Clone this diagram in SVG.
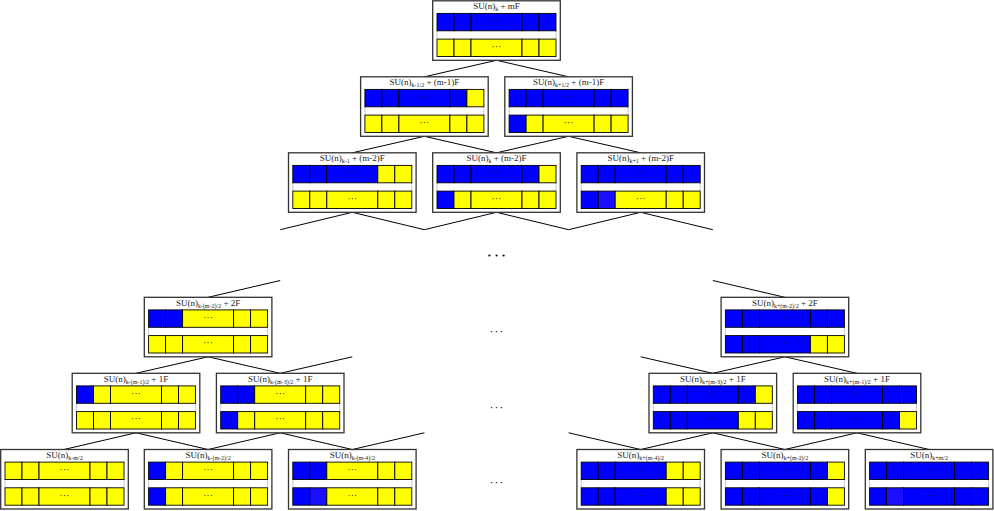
<svg xmlns="http://www.w3.org/2000/svg" width="994" height="511" viewBox="0 0 994 511">
<style>
.frame{fill:#fff;stroke:#333;stroke-width:1.3}
.b{fill:#0000ff;stroke:#000;stroke-width:0.9}
.y{fill:#ffff00;stroke:#000;stroke-width:0.9}
.b2{fill:#1a10ff;stroke:#000;stroke-width:0.9}
.gap{stroke:#777;stroke-width:0.8;stroke-dasharray:1 1}
.t{font-family:"Liberation Serif",serif;font-size:9px;text-anchor:middle;fill:#222}
.s{font-size:6px}
.cd{font-family:"DejaVu Sans",sans-serif;font-size:8px;text-anchor:middle;letter-spacing:0.8px;fill:#111}
.el{font-family:"DejaVu Sans",sans-serif;font-size:11px;text-anchor:middle;letter-spacing:1.5px;fill:#111}
.big{font-family:"DejaVu Sans",sans-serif;font-size:7px;text-anchor:middle;letter-spacing:3px;fill:#000}
.conn line,.conn polyline{stroke:#000;stroke-width:1;fill:none}
</style>
<defs>
<g id="shell">
<rect class="frame" x="0" y="0" width="127.6" height="59.5"/>
<line class="gap" x1="4.3" y1="30" x2="4.3" y2="38.3"/>
<line class="gap" x1="123.3" y1="30" x2="123.3" y2="38.3"/>
</g>
</defs>

<g id="connectors" class="conn">
<line x1="496.5" y1="60.3" x2="424.4" y2="76.8"/>
<line x1="496.5" y1="60.3" x2="568.6" y2="76.8"/>
<line x1="424.4" y1="136.3" x2="352.3" y2="152.8"/>
<line x1="424.4" y1="136.3" x2="496.5" y2="152.8"/>
<line x1="568.6" y1="136.3" x2="496.5" y2="152.8"/>
<line x1="568.6" y1="136.3" x2="640.7" y2="152.8"/>
<polyline points="280.2,229.7 352.3,212.3 424.4,229.7 496.5,212.3 568.6,229.7 640.7,212.3 712.8,229.7"/>
<line x1="208.1" y1="297.3" x2="280.2" y2="280.5"/>
<line x1="784.9" y1="297.3" x2="712.8" y2="280.5"/>
<line x1="208.1" y1="356.8" x2="136" y2="373.3"/>
<line x1="208.1" y1="356.8" x2="280.2" y2="373.3"/>
<line x1="784.9" y1="356.8" x2="712.8" y2="373.3"/>
<line x1="784.9" y1="356.8" x2="857" y2="373.3"/>
<line x1="280.2" y1="373.3" x2="352.3" y2="356.8"/>
<line x1="712.8" y1="373.3" x2="640.7" y2="356.8"/>
<line x1="136" y1="432.8" x2="63.9" y2="449.5"/>
<line x1="136" y1="432.8" x2="208.1" y2="449.5"/>
<line x1="280.2" y1="432.8" x2="208.1" y2="449.5"/>
<line x1="280.2" y1="432.8" x2="352.3" y2="449.5"/>
<line x1="712.8" y1="432.8" x2="640.7" y2="449.5"/>
<line x1="712.8" y1="432.8" x2="784.9" y2="449.5"/>
<line x1="857" y1="432.8" x2="784.9" y2="449.5"/>
<line x1="857" y1="432.8" x2="929.1" y2="449.5"/>
<line x1="352.3" y1="449.5" x2="424.4" y2="432.8"/>
<line x1="640.7" y1="449.5" x2="568.6" y2="432.8"/>
</g>

<g id="ellipses">
<text class="big" x="498" y="258.4">•••</text>
<text class="el" x="497.3" y="334.5">···</text>
<text class="el" x="497.3" y="410.5">···</text>
<text class="el" x="497.3" y="486">···</text>
</g>

<g id="n1" transform="translate(432.7,0.8)">
<use href="#shell"/>
<text class="t" x="63.8" y="8.6">SU(n)<tspan class="s" dy="2">k</tspan><tspan dy="-2"> + mF</tspan></text>
<rect class="b" x="4.3" y="12.6" width="17" height="17.4"/><rect class="b" x="21.3" y="12.6" width="17" height="17.4"/><rect class="b" x="38.3" y="12.6" width="51" height="17.4"/><rect class="b" x="89.3" y="12.6" width="17" height="17.4"/><rect class="b" x="106.3" y="12.6" width="17" height="17.4"/>
<rect class="y" x="4.3" y="38.3" width="17" height="17.4"/><rect class="y" x="21.3" y="38.3" width="17" height="17.4"/><rect class="y" x="38.3" y="38.3" width="51" height="17.4"/><rect class="y" x="89.3" y="38.3" width="17" height="17.4"/><rect class="y" x="106.3" y="38.3" width="17" height="17.4"/>
<text class="cd" x="64.2" y="23.5">···</text><text class="cd" x="64.2" y="49.2">···</text>
</g>

<g id="n2a" transform="translate(360.6,76.8)">
<use href="#shell"/>
<text class="t" x="63.8" y="8.6">SU(n)<tspan class="s" dy="2">k-1/2</tspan><tspan dy="-2"> + (m-1)F</tspan></text>
<rect class="b" x="4.3" y="12.6" width="17" height="17.4"/><rect class="b" x="21.3" y="12.6" width="17" height="17.4"/><rect class="b" x="38.3" y="12.6" width="51" height="17.4"/><rect class="b" x="89.3" y="12.6" width="17" height="17.4"/><rect class="y" x="106.3" y="12.6" width="17" height="17.4"/>
<rect class="y" x="4.3" y="38.3" width="17" height="17.4"/><rect class="y" x="21.3" y="38.3" width="17" height="17.4"/><rect class="y" x="38.3" y="38.3" width="51" height="17.4"/><rect class="y" x="89.3" y="38.3" width="17" height="17.4"/><rect class="y" x="106.3" y="38.3" width="17" height="17.4"/>
<text class="cd" x="64.2" y="23.5">···</text><text class="cd" x="64.2" y="49.2">···</text>
</g>

<g id="n2b" transform="translate(504.8,76.8)">
<use href="#shell"/>
<text class="t" x="63.8" y="8.6">SU(n)<tspan class="s" dy="2">k+1/2</tspan><tspan dy="-2"> + (m-1)F</tspan></text>
<rect class="b" x="4.3" y="12.6" width="17" height="17.4"/><rect class="b" x="21.3" y="12.6" width="17" height="17.4"/><rect class="b" x="38.3" y="12.6" width="51" height="17.4"/><rect class="b" x="89.3" y="12.6" width="17" height="17.4"/><rect class="b" x="106.3" y="12.6" width="17" height="17.4"/>
<rect class="b" x="4.3" y="38.3" width="17" height="17.4"/><rect class="y" x="21.3" y="38.3" width="17" height="17.4"/><rect class="y" x="38.3" y="38.3" width="51" height="17.4"/><rect class="y" x="89.3" y="38.3" width="17" height="17.4"/><rect class="y" x="106.3" y="38.3" width="17" height="17.4"/>
<text class="cd" x="64.2" y="23.5">···</text><text class="cd" x="64.2" y="49.2">···</text>
</g>

<g id="n3a" transform="translate(288.5,152.8)">
<use href="#shell"/>
<text class="t" x="63.8" y="8.6">SU(n)<tspan class="s" dy="2">k-1</tspan><tspan dy="-2"> + (m-2)F</tspan></text>
<rect class="b" x="4.3" y="12.6" width="17" height="17.4"/><rect class="b" x="21.3" y="12.6" width="17" height="17.4"/><rect class="b" x="38.3" y="12.6" width="51" height="17.4"/><rect class="y" x="89.3" y="12.6" width="17" height="17.4"/><rect class="y" x="106.3" y="12.6" width="17" height="17.4"/>
<rect class="y" x="4.3" y="38.3" width="17" height="17.4"/><rect class="y" x="21.3" y="38.3" width="17" height="17.4"/><rect class="y" x="38.3" y="38.3" width="51" height="17.4"/><rect class="y" x="89.3" y="38.3" width="17" height="17.4"/><rect class="y" x="106.3" y="38.3" width="17" height="17.4"/>
<text class="cd" x="64.2" y="23.5">···</text><text class="cd" x="64.2" y="49.2">···</text>
</g>

<g id="n3b" transform="translate(432.7,152.8)">
<use href="#shell"/>
<text class="t" x="63.8" y="8.6">SU(n)<tspan class="s" dy="2">k</tspan><tspan dy="-2"> + (m-2)F</tspan></text>
<rect class="b" x="4.3" y="12.6" width="17" height="17.4"/><rect class="b" x="21.3" y="12.6" width="17" height="17.4"/><rect class="b" x="38.3" y="12.6" width="51" height="17.4"/><rect class="b" x="89.3" y="12.6" width="17" height="17.4"/><rect class="y" x="106.3" y="12.6" width="17" height="17.4"/>
<rect class="b" x="4.3" y="38.3" width="17" height="17.4"/><rect class="y" x="21.3" y="38.3" width="17" height="17.4"/><rect class="y" x="38.3" y="38.3" width="51" height="17.4"/><rect class="y" x="89.3" y="38.3" width="17" height="17.4"/><rect class="y" x="106.3" y="38.3" width="17" height="17.4"/>
<text class="cd" x="64.2" y="23.5">···</text><text class="cd" x="64.2" y="49.2">···</text>
</g>

<g id="n3c" transform="translate(576.9,152.8)">
<use href="#shell"/>
<text class="t" x="63.8" y="8.6">SU(n)<tspan class="s" dy="2">k+1</tspan><tspan dy="-2"> + (m-2)F</tspan></text>
<rect class="b" x="4.3" y="12.6" width="17" height="17.4"/><rect class="b" x="21.3" y="12.6" width="17" height="17.4"/><rect class="b" x="38.3" y="12.6" width="51" height="17.4"/><rect class="b" x="89.3" y="12.6" width="17" height="17.4"/><rect class="b" x="106.3" y="12.6" width="17" height="17.4"/>
<rect class="b" x="4.3" y="38.3" width="17" height="17.4"/><rect class="b2" x="21.3" y="38.3" width="17" height="17.4"/><rect class="y" x="38.3" y="38.3" width="51" height="17.4"/><rect class="y" x="89.3" y="38.3" width="17" height="17.4"/><rect class="y" x="106.3" y="38.3" width="17" height="17.4"/>
<text class="cd" x="64.2" y="23.5">···</text><text class="cd" x="64.2" y="49.2">···</text>
</g>

<g id="n4a" transform="translate(144.3,297.3)">
<use href="#shell"/>
<text class="t" x="63.8" y="8.6">SU(n)<tspan class="s" dy="2">k-(m-2)/2</tspan><tspan dy="-2"> + 2F</tspan></text>
<rect class="b" x="4.3" y="12.6" width="17" height="17.4"/><rect class="b" x="21.3" y="12.6" width="17" height="17.4"/><rect class="y" x="38.3" y="12.6" width="51" height="17.4"/><rect class="y" x="89.3" y="12.6" width="17" height="17.4"/><rect class="y" x="106.3" y="12.6" width="17" height="17.4"/>
<rect class="y" x="4.3" y="38.3" width="17" height="17.4"/><rect class="y" x="21.3" y="38.3" width="17" height="17.4"/><rect class="y" x="38.3" y="38.3" width="51" height="17.4"/><rect class="y" x="89.3" y="38.3" width="17" height="17.4"/><rect class="y" x="106.3" y="38.3" width="17" height="17.4"/>
<text class="cd" x="64.2" y="23.5">···</text><text class="cd" x="64.2" y="49.2">···</text>
</g>

<g id="n4b" transform="translate(721.1,297.3)">
<use href="#shell"/>
<text class="t" x="63.8" y="8.6">SU(n)<tspan class="s" dy="2">k+(m-2)/2</tspan><tspan dy="-2"> + 2F</tspan></text>
<rect class="b" x="4.3" y="12.6" width="17" height="17.4"/><rect class="b" x="21.3" y="12.6" width="17" height="17.4"/><rect class="b" x="38.3" y="12.6" width="51" height="17.4"/><rect class="b" x="89.3" y="12.6" width="17" height="17.4"/><rect class="b" x="106.3" y="12.6" width="17" height="17.4"/>
<rect class="b" x="4.3" y="38.3" width="17" height="17.4"/><rect class="b" x="21.3" y="38.3" width="17" height="17.4"/><rect class="b" x="38.3" y="38.3" width="51" height="17.4"/><rect class="y" x="89.3" y="38.3" width="17" height="17.4"/><rect class="y" x="106.3" y="38.3" width="17" height="17.4"/>
<text class="cd" x="64.2" y="23.5">···</text><text class="cd" x="64.2" y="49.2">···</text>
</g>

<g id="n5a" transform="translate(72.2,373.3)">
<use href="#shell"/>
<text class="t" x="63.8" y="8.6">SU(n)<tspan class="s" dy="2">k-(m-1)/2</tspan><tspan dy="-2"> + 1F</tspan></text>
<rect class="b" x="4.3" y="12.6" width="17" height="17.4"/><rect class="y" x="21.3" y="12.6" width="17" height="17.4"/><rect class="y" x="38.3" y="12.6" width="51" height="17.4"/><rect class="y" x="89.3" y="12.6" width="17" height="17.4"/><rect class="y" x="106.3" y="12.6" width="17" height="17.4"/>
<rect class="y" x="4.3" y="38.3" width="17" height="17.4"/><rect class="y" x="21.3" y="38.3" width="17" height="17.4"/><rect class="y" x="38.3" y="38.3" width="51" height="17.4"/><rect class="y" x="89.3" y="38.3" width="17" height="17.4"/><rect class="y" x="106.3" y="38.3" width="17" height="17.4"/>
<text class="cd" x="64.2" y="23.5">···</text><text class="cd" x="64.2" y="49.2">···</text>
</g>

<g id="n5b" transform="translate(216.4,373.3)">
<use href="#shell"/>
<text class="t" x="63.8" y="8.6">SU(n)<tspan class="s" dy="2">k-(m-3)/2</tspan><tspan dy="-2"> + 1F</tspan></text>
<rect class="b" x="4.3" y="12.6" width="17" height="17.4"/><rect class="b" x="21.3" y="12.6" width="17" height="17.4"/><rect class="y" x="38.3" y="12.6" width="51" height="17.4"/><rect class="y" x="89.3" y="12.6" width="17" height="17.4"/><rect class="y" x="106.3" y="12.6" width="17" height="17.4"/>
<rect class="b" x="4.3" y="38.3" width="17" height="17.4"/><rect class="y" x="21.3" y="38.3" width="17" height="17.4"/><rect class="y" x="38.3" y="38.3" width="51" height="17.4"/><rect class="y" x="89.3" y="38.3" width="17" height="17.4"/><rect class="y" x="106.3" y="38.3" width="17" height="17.4"/>
<text class="cd" x="64.2" y="23.5">···</text><text class="cd" x="64.2" y="49.2">···</text>
</g>

<g id="n5c" transform="translate(649,373.3)">
<use href="#shell"/>
<text class="t" x="63.8" y="8.6">SU(n)<tspan class="s" dy="2">k+(m-3)/2</tspan><tspan dy="-2"> + 1F</tspan></text>
<rect class="b" x="4.3" y="12.6" width="17" height="17.4"/><rect class="b" x="21.3" y="12.6" width="17" height="17.4"/><rect class="b" x="38.3" y="12.6" width="51" height="17.4"/><rect class="b" x="89.3" y="12.6" width="17" height="17.4"/><rect class="y" x="106.3" y="12.6" width="17" height="17.4"/>
<rect class="b" x="4.3" y="38.3" width="17" height="17.4"/><rect class="b" x="21.3" y="38.3" width="17" height="17.4"/><rect class="b" x="38.3" y="38.3" width="51" height="17.4"/><rect class="y" x="89.3" y="38.3" width="17" height="17.4"/><rect class="y" x="106.3" y="38.3" width="17" height="17.4"/>
<text class="cd" x="64.2" y="23.5">···</text><text class="cd" x="64.2" y="49.2">···</text>
</g>

<g id="n5d" transform="translate(793.2,373.3)">
<use href="#shell"/>
<text class="t" x="63.8" y="8.6">SU(n)<tspan class="s" dy="2">k+(m-1)/2</tspan><tspan dy="-2"> + 1F</tspan></text>
<rect class="b" x="4.3" y="12.6" width="17" height="17.4"/><rect class="b" x="21.3" y="12.6" width="17" height="17.4"/><rect class="b" x="38.3" y="12.6" width="51" height="17.4"/><rect class="b" x="89.3" y="12.6" width="17" height="17.4"/><rect class="b" x="106.3" y="12.6" width="17" height="17.4"/>
<rect class="b" x="4.3" y="38.3" width="17" height="17.4"/><rect class="b" x="21.3" y="38.3" width="17" height="17.4"/><rect class="b" x="38.3" y="38.3" width="51" height="17.4"/><rect class="b" x="89.3" y="38.3" width="17" height="17.4"/><rect class="y" x="106.3" y="38.3" width="17" height="17.4"/>
<text class="cd" x="64.2" y="23.5">···</text><text class="cd" x="64.2" y="49.2">···</text>
</g>

<g id="n6a" transform="translate(0.7,449.5)">
<use href="#shell"/>
<text class="t" x="63.8" y="8.6">SU(n)<tspan class="s" dy="2">k-m/2</tspan></text>
<rect class="y" x="4.3" y="12.6" width="17" height="17.4"/><rect class="y" x="21.3" y="12.6" width="17" height="17.4"/><rect class="y" x="38.3" y="12.6" width="51" height="17.4"/><rect class="y" x="89.3" y="12.6" width="17" height="17.4"/><rect class="y" x="106.3" y="12.6" width="17" height="17.4"/>
<rect class="y" x="4.3" y="38.3" width="17" height="17.4"/><rect class="y" x="21.3" y="38.3" width="17" height="17.4"/><rect class="y" x="38.3" y="38.3" width="51" height="17.4"/><rect class="y" x="89.3" y="38.3" width="17" height="17.4"/><rect class="y" x="106.3" y="38.3" width="17" height="17.4"/>
<text class="cd" x="64.2" y="23.5">···</text><text class="cd" x="64.2" y="49.2">···</text>
</g>

<g id="n6b" transform="translate(144.3,449.5)">
<use href="#shell"/>
<text class="t" x="63.8" y="8.6">SU(n)<tspan class="s" dy="2">k-(m-2)/2</tspan></text>
<rect class="b" x="4.3" y="12.6" width="17" height="17.4"/><rect class="y" x="21.3" y="12.6" width="17" height="17.4"/><rect class="y" x="38.3" y="12.6" width="51" height="17.4"/><rect class="y" x="89.3" y="12.6" width="17" height="17.4"/><rect class="y" x="106.3" y="12.6" width="17" height="17.4"/>
<rect class="b" x="4.3" y="38.3" width="17" height="17.4"/><rect class="y" x="21.3" y="38.3" width="17" height="17.4"/><rect class="y" x="38.3" y="38.3" width="51" height="17.4"/><rect class="y" x="89.3" y="38.3" width="17" height="17.4"/><rect class="y" x="106.3" y="38.3" width="17" height="17.4"/>
<text class="cd" x="64.2" y="23.5">···</text><text class="cd" x="64.2" y="49.2">···</text>
</g>

<g id="n6c" transform="translate(288.5,449.5)">
<use href="#shell"/>
<text class="t" x="63.8" y="8.6">SU(n)<tspan class="s" dy="2">k-(m-4)/2</tspan></text>
<rect class="b" x="4.3" y="12.6" width="17" height="17.4"/><rect class="b" x="21.3" y="12.6" width="17" height="17.4"/><rect class="y" x="38.3" y="12.6" width="51" height="17.4"/><rect class="y" x="89.3" y="12.6" width="17" height="17.4"/><rect class="y" x="106.3" y="12.6" width="17" height="17.4"/>
<rect class="b" x="4.3" y="38.3" width="17" height="17.4"/><rect class="b2" x="21.3" y="38.3" width="17" height="17.4"/><rect class="y" x="38.3" y="38.3" width="51" height="17.4"/><rect class="y" x="89.3" y="38.3" width="17" height="17.4"/><rect class="y" x="106.3" y="38.3" width="17" height="17.4"/>
<text class="cd" x="64.2" y="23.5">···</text><text class="cd" x="64.2" y="49.2">···</text>
</g>

<g id="n6d" transform="translate(576.9,449.5)">
<use href="#shell"/>
<text class="t" x="63.8" y="8.6">SU(n)<tspan class="s" dy="2">k+(m-4)/2</tspan></text>
<rect class="b" x="4.3" y="12.6" width="17" height="17.4"/><rect class="b" x="21.3" y="12.6" width="17" height="17.4"/><rect class="b" x="38.3" y="12.6" width="51" height="17.4"/><rect class="y" x="89.3" y="12.6" width="17" height="17.4"/><rect class="y" x="106.3" y="12.6" width="17" height="17.4"/>
<rect class="b" x="4.3" y="38.3" width="17" height="17.4"/><rect class="b" x="21.3" y="38.3" width="17" height="17.4"/><rect class="b" x="38.3" y="38.3" width="51" height="17.4"/><rect class="y" x="89.3" y="38.3" width="17" height="17.4"/><rect class="y" x="106.3" y="38.3" width="17" height="17.4"/>
<text class="cd" x="64.2" y="23.5">···</text><text class="cd" x="64.2" y="49.2">···</text>
</g>

<g id="n6e" transform="translate(721.1,449.5)">
<use href="#shell"/>
<text class="t" x="63.8" y="8.6">SU(n)<tspan class="s" dy="2">k+(m-2)/2</tspan></text>
<rect class="b" x="4.3" y="12.6" width="17" height="17.4"/><rect class="b" x="21.3" y="12.6" width="17" height="17.4"/><rect class="b" x="38.3" y="12.6" width="51" height="17.4"/><rect class="b" x="89.3" y="12.6" width="17" height="17.4"/><rect class="y" x="106.3" y="12.6" width="17" height="17.4"/>
<rect class="b" x="4.3" y="38.3" width="17" height="17.4"/><rect class="b" x="21.3" y="38.3" width="17" height="17.4"/><rect class="b" x="38.3" y="38.3" width="51" height="17.4"/><rect class="b" x="89.3" y="38.3" width="17" height="17.4"/><rect class="y" x="106.3" y="38.3" width="17" height="17.4"/>
<text class="cd" x="64.2" y="23.5">···</text><text class="cd" x="64.2" y="49.2">···</text>
</g>

<g id="n6f" transform="translate(865.3,449.5)">
<use href="#shell"/>
<text class="t" x="63.8" y="8.6">SU(n)<tspan class="s" dy="2">k+m/2</tspan></text>
<rect class="b" x="4.3" y="12.6" width="17" height="17.4"/><rect class="b" x="21.3" y="12.6" width="17" height="17.4"/><rect class="b" x="38.3" y="12.6" width="51" height="17.4"/><rect class="b" x="89.3" y="12.6" width="17" height="17.4"/><rect class="b" x="106.3" y="12.6" width="17" height="17.4"/>
<rect class="b" x="4.3" y="38.3" width="17" height="17.4"/><rect class="b2" x="21.3" y="38.3" width="17" height="17.4"/><rect class="b" x="38.3" y="38.3" width="51" height="17.4"/><rect class="b" x="89.3" y="38.3" width="17" height="17.4"/><rect class="b" x="106.3" y="38.3" width="17" height="17.4"/>
<text class="cd" x="64.2" y="23.5">···</text><text class="cd" x="64.2" y="49.2">···</text>
</g>
</svg>
